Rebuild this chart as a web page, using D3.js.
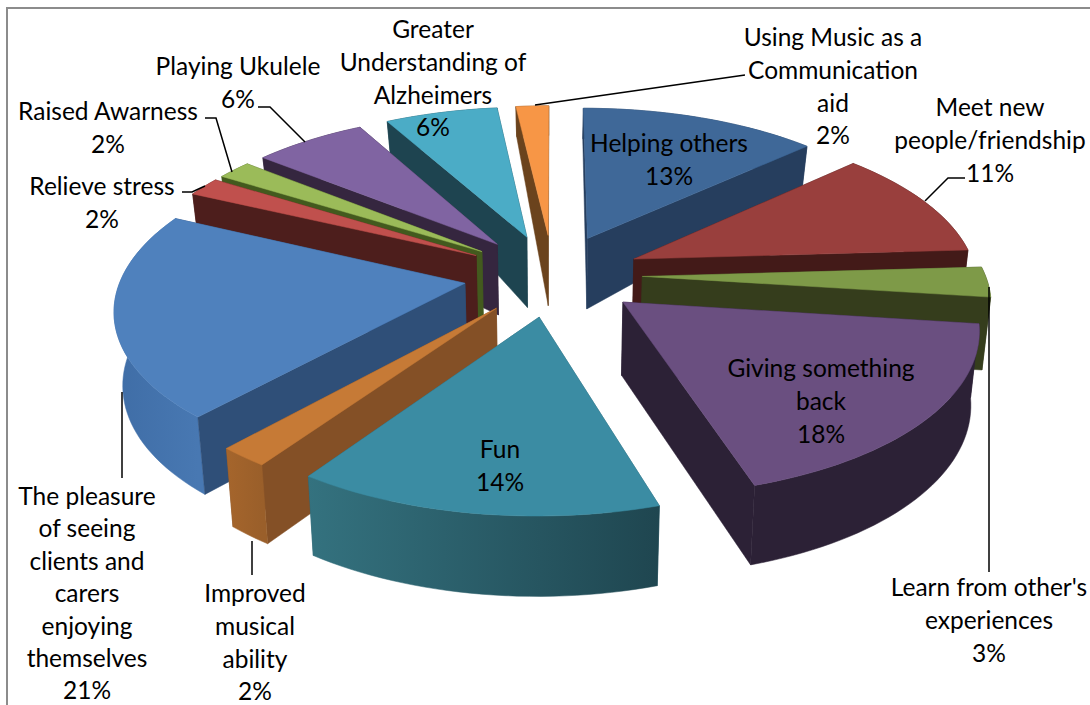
<!DOCTYPE html>
<html><head><meta charset="utf-8">
<script src="https://d3js.org/d3.v7.min.js"></script>
<style>html,body{margin:0;background:#fff}svg{display:block}text{font-family:Lato,"Open Sans",sans-serif;font-size:24.5px;fill:#000;text-anchor:middle}</style>
</head><body><svg id="c" width="1090" height="705"></svg>
<script>
const categories=["Helping others","Meet new people/friendship","Learn from other's experiences","Giving something back","Fun","Improved musical ability","The pleasure of seeing clients and carers enjoying themselves","Relieve stress","Raised Awarness","Playing Ukulele","Greater Understanding of Alzheimers","Using Music as a Communication aid"];
const values=[13.1,11,3,18.2,14.4,2,20.5,1.9,1.9,6.2,6.2,1.8];
const topColors=["#3f6898","#993f3d","#7e9a48","#6a4f80","#3b8ca3","#c67a36","#4f81bd","#c0504d","#9bbb59","#8064a2","#4bacc6","#f79646"];
const wallColors=["#263e5e","#431a18","#353d1c","#2c2136","#2a5f6e","#845026","#2f4f78","#4d1e1c","#435a1e","#35263f","#1e4450","#6b431d"];
const outerFrom=["#263e5e","#431a18","#353d1c","#2c2136","#34727f","#a5652c","#3f6da6","#4d1e1c","#435a1e","#35263f","#1e4450","#6b431d"];
const outerTo=["#263e5e","#431a18","#353d1c","#2c2136","#1f4650","#9a5f2a","#4878b2","#4d1e1c","#435a1e","#35263f","#1e4450","#6b431d"];
const labelLines=[["Helping others","13%"],["Meet new","people/friendship","11%"],["Learn from other's","experiences","3%"],["Giving something","back","18%"],["Fun","14%"],["Improved","musical","ability","2%"],["The pleasure","of seeing","clients and","carers","enjoying","themselves","21%"],["Relieve stress","2%"],["Raised Awarness","2%"],["Playing Ukulele","6%"],["Greater","Understanding of","Alzheimers","6%"],["Using Music as a","Communication","aid","2%"]];
const labelAnchors=[[669,152],[990,116],[989,596],[821,377],[500,458],[255,602],[87,505],[102,195],[108,120],[238,75],[433,38],[833,46]];
const lineSteps=[32.8,32.8,32.8,32.8,32.8,32.8,32.4,32.8,32.8,32.8,32.8,32.8];
const leaders=[null,[[925,201],[948,178],[965,178]],[[989,287],[989,572]],null,null,[[252,541],[252,575]],[[122,392],[122,478]],[[182,192],[192,192],[205,186]],[[205,118],[216,118],[232,172]],[[258,107],[270,107],[305,142]],null,[[535,105],[745,75]]];

const svg=d3.select("#c"),defs=svg.append("defs");
svg.append("path").attr("d","M7,705V8H1090").attr("fill","none").attr("stroke","#8c8c8c").attr("stroke-width",2);

const cx=553,cy=275,W=343,A=158,B=0.14,EXPL=0.26;
const heightAt=d3.scaleLinear().domain([-1.2,0.3,1.3]).range([80,70,28]);
function proj(X,Y){const s=1/(1+B*Y);return [cx+W*X*s,cy-A*Y*s];}
function projBottom(X,Y){const p=proj(X,Y);return [cx+(p[0]-cx)*0.98,p[1]+heightAt(Y)];}
const line=d3.line();
const arcs=d3.pie().sort(null).value(d=>d)(values);
const slices=arcs.map((a,i)=>{
  const mid=(a.startAngle+a.endAngle)/2,ox=EXPL*Math.sin(mid),oy=EXPL*Math.cos(mid);
  const n=Math.max(3,Math.ceil((a.endAngle-a.startAngle)/0.03));
  const rim=d3.range(n+1).map(k=>{const t=a.startAngle+(a.endAngle-a.startAngle)*k/n;return [ox+Math.sin(t),oy+Math.cos(t)];});
  return {i,mid,apex:[ox,oy],rim};
});
const g=svg.append("g");
slices.slice().sort((a,b)=>Math.cos(b.mid)-Math.cos(a.mid)).forEach(s=>{
  const i=s.i,rimTop=s.rim.map(p=>proj(...p)),rimBot=s.rim.map(p=>projBottom(...p));
  const ext=d3.extent(rimTop,p=>p[0]);
  const id="o"+i;
  const lg=defs.append("linearGradient").attr("id",id).attr("gradientUnits","userSpaceOnUse").attr("x1",ext[0]).attr("x2",ext[1]).attr("y1",0).attr("y2",0);
  lg.append("stop").attr("offset",0).attr("stop-color",outerFrom[i]);
  lg.append("stop").attr("offset",1).attr("stop-color",outerTo[i]);
  const a=s.apex,aT=proj(...a),aB=projBottom(...a),f=s.rim[0],l=s.rim[s.rim.length-1];
  const walls=[
   {y:(a[1]+f[1])/2,pts:[aT,proj(...f),projBottom(...f),aB],fill:wallColors[i]},
   {y:(a[1]+l[1])/2,pts:[aT,proj(...l),projBottom(...l),aB],fill:wallColors[i]},
   {y:d3.mean(s.rim,p=>p[1]),pts:rimTop.concat(rimBot.slice().reverse()),fill:`url(#${id})`}
  ].sort((p,q)=>q.y-p.y);
  walls.forEach(w=>g.append("path").attr("d",line(w.pts)+"Z").attr("fill",w.fill).attr("stroke",w.fill).attr("stroke-width",0.5));
  g.append("path").attr("d",line([aT,...rimTop])+"Z").attr("fill",topColors[i]).attr("stroke",topColors[i]).attr("stroke-width",0.5);
});
leaders.forEach(L=>{if(L)svg.append("path").attr("d",line(L)).attr("fill","none").attr("stroke","#000").attr("stroke-width",1.5);});
labelLines.forEach((ls,i)=>{
  const t=svg.append("text").attr("x",labelAnchors[i][0]).attr("y",labelAnchors[i][1]);
  ls.forEach((s,k)=>t.append("tspan").attr("x",labelAnchors[i][0]).attr("y",labelAnchors[i][1]+k*lineSteps[i]).text(s));
});
</script></body></html>
